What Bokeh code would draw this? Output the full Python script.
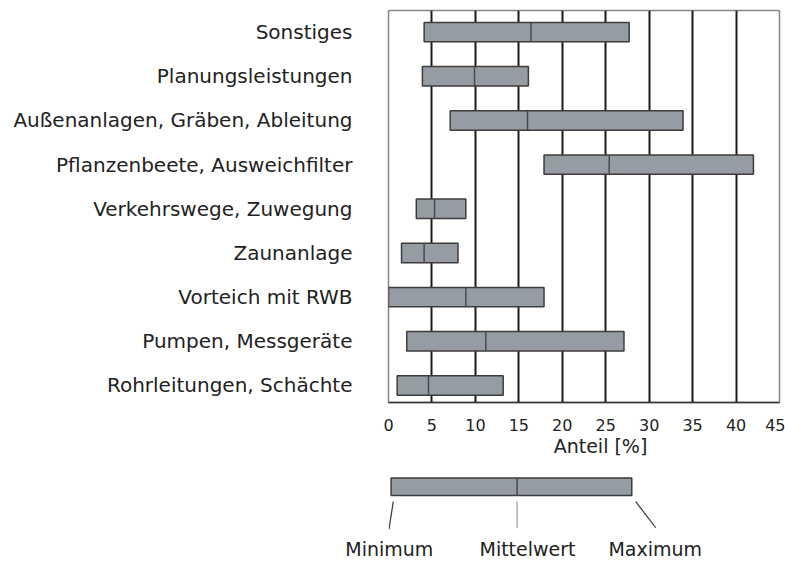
from bokeh.plotting import figure
from bokeh.layouts import column
from bokeh.models import Range1d, FixedTicker, ColumnDataSource, LinearAxis
from bokeh.embed import file_html
from bokeh.resources import INLINE

# ---- data ----
categories = ["Sonstiges", "Planungsleistungen", "Außenanlagen, Gräben, Ableitung",
              "Pflanzenbeete, Ausweichfilter", "Verkehrswege, Zuwegung", "Zaunanlage",
              "Vorteich mit RWB", "Pumpen, Messgeräte", "Rohrleitungen, Schächte"]
minimum = [4.1, 3.9, 7.1, 17.9, 3.2, 1.5, 0.0, 2.1, 1.0]
mittelwert = [16.4, 9.9, 16.0, 25.4, 5.3, 4.1, 8.9, 11.2, 4.6]
maximum = [27.7, 16.1, 33.9, 42.0, 8.9, 8.0, 17.9, 27.1, 13.2]
x_ticks = [0, 5, 10, 15, 20, 25, 30, 35, 40, 45]
axis_title = "Anteil [%]"
axis_title_at = 24.4  # where the title sits along the x scale

legend_labels = ["Minimum", "Mittelwert", "Maximum"]
legend_values = [0.3, 14.8, 28.0]  # schematic example: min, mean, max

# ---- styles ----
FONT = "DejaVu Sans"
FILL = "#959ca3"
EDGE = "#3c3c3c"
MEAN = "#4a4a4a"
TXT = "#222222"

n = len(categories)
ypos = [n - 1 - i for i in range(n)]
bar_h = 0.44

W = 785
BL, BR = 388, 6
X0, X1 = 0, 45

p = figure(width=W, height=460, output_backend="svg", toolbar_location=None,
           x_range=Range1d(X0, X1), y_range=Range1d(-0.385, 8.49),
           min_border_left=BL, min_border_right=BR, min_border_top=10, min_border_bottom=58)

src = ColumnDataSource(dict(y=ypos, lo=minimum, mid=mittelwert, hi=maximum,
                            y0=[y - bar_h / 2 for y in ypos], y1=[y + bar_h / 2 for y in ypos]))
p.hbar(y="y", left="lo", right="hi", height=bar_h, source=src,
       fill_color=FILL, line_color=EDGE, line_width=1.5)
p.segment(x0="mid", x1="mid", y0="y0", y1="y1", source=src, line_color=MEAN, line_width=1.5)

p.outline_line_color = "#888888"
p.outline_line_width = 1.5
p.ygrid.visible = False
p.xgrid.ticker = FixedTicker(ticks=x_ticks[1:-1])
p.xgrid.grid_line_color = "#1a1a1a"
p.xgrid.grid_line_width = 2

p.xaxis.ticker = FixedTicker(ticks=x_ticks)
p.xaxis.major_label_text_font = FONT
p.xaxis.major_label_text_font_size = "16px"
p.xaxis.major_label_text_color = TXT
p.xaxis.major_label_standoff = 10
p.xaxis.major_tick_line_color = None
p.xaxis.minor_tick_line_color = None
p.xaxis.axis_line_color = "#333333"
p.xaxis.axis_line_width = 1.5

# axis title, placed slightly right of centre as in the original
title_axis = LinearAxis(ticker=FixedTicker(ticks=[axis_title_at]),
                        major_label_overrides={axis_title_at: axis_title})
title_axis.axis_line_color = None
title_axis.major_tick_line_color = None
title_axis.minor_tick_line_color = None
title_axis.major_label_standoff = -5
title_axis.major_label_text_font = FONT
title_axis.major_label_text_font_size = "19px"
title_axis.major_label_text_color = TXT
p.add_layout(title_axis, "below")

p.yaxis.ticker = FixedTicker(ticks=ypos)
p.yaxis.major_label_overrides = {y: c for y, c in zip(ypos, categories)}
p.yaxis.major_label_text_font = FONT
p.yaxis.major_label_text_font_size = "20px"
p.yaxis.major_label_text_color = TXT
p.yaxis.major_label_standoff = 30
p.yaxis.major_tick_line_color = None
p.yaxis.minor_tick_line_color = None
p.yaxis.axis_line_color = None

# ---- legend figure (same x scale, frames aligned) ----
LH = 102
FH = 79
q = figure(width=W, height=LH, output_backend="svg", toolbar_location=None,
           x_range=p.x_range, y_range=Range1d(FH, 0),
           x_axis_type=None, y_axis_type=None,
           min_border_left=BL, min_border_right=BR, min_border_top=0, min_border_bottom=LH - FH)
q.outline_line_color = None
q.grid.visible = False

lmin, lmean, lmax = legend_values
q.hbar(y=[30], left=[lmin], right=[lmax], height=20, fill_color=FILL, line_color=EDGE, line_width=1.5)
q.segment(x0=[lmean], x1=[lmean], y0=[20], y1=[40], line_color=MEAN, line_width=1.5)

# pointer lines from the sample bar to the captions
q.segment(x0=[lmin + 0.25, lmean, lmax + 0.45], x1=[lmin - 0.25, lmean, lmax + 2.75],
          y0=[47, 47, 47], y1=[79, 77, 77],
          line_color=["#333333", "#999999", "#333333"], line_width=1.2)

# captions as an axis below the sample (not clipped by the frame)
label_x = [round(lmin - 0.2, 2), round(lmean + 1.2, 2), round(lmax + 2.7, 2)]
cap_axis = LinearAxis(ticker=FixedTicker(ticks=label_x),
                      major_label_overrides={x: t for x, t in zip(label_x, legend_labels)})
cap_axis.axis_line_color = None
cap_axis.major_tick_line_color = None
cap_axis.minor_tick_line_color = None
cap_axis.major_label_standoff = 2
cap_axis.major_label_text_font = FONT
cap_axis.major_label_text_font_size = "19px"
cap_axis.major_label_text_color = TXT
q.add_layout(cap_axis, "below")

layout = column(p, q, spacing=0)
open("out.html", "w").write(file_html(layout, INLINE))
